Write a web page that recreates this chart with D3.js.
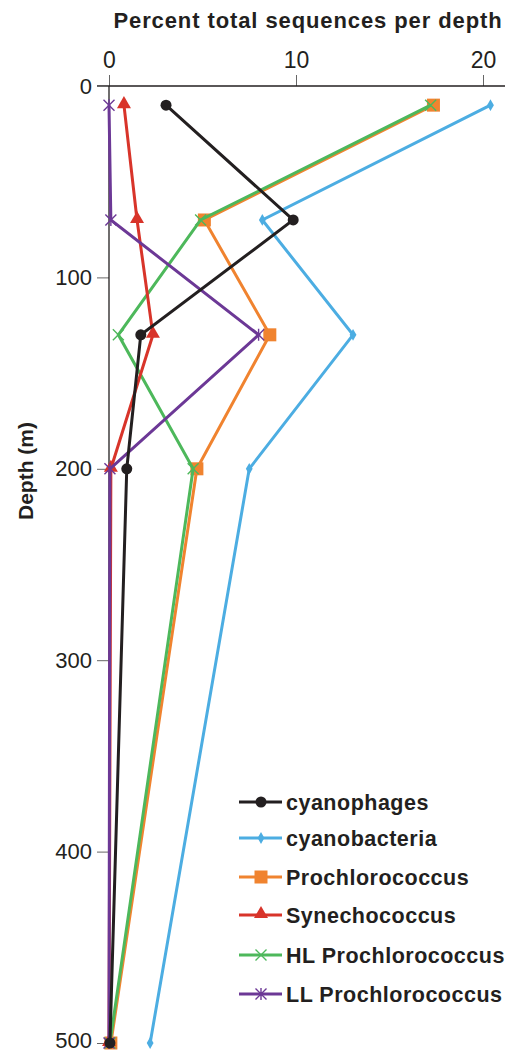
<!DOCTYPE html>
<html>
<head>
<meta charset="utf-8">
<script src="https://cdn.jsdelivr.net/npm/d3@7"></script>
<style>
  body { margin: 0; background: #fff; }
  svg { display: block; font-family: "Liberation Sans", Arial, Helvetica, sans-serif; }
</style>
</head>
<body>
<div id="chart"></div>
<script>
// depths (m) sampled
var depths = [10, 70, 130, 200, 500];

// percent total sequences per depth
var cyanophages = [3.05, 9.85, 1.7, 0.95, 0.05];
var cyanobacteria = [20.4, 8.2, 13.05, 7.5, 2.2];
var prochlorococcus = [17.35, 5.1, 8.6, 4.7, 0.1];
var synechococcus = [0.8, 1.5, 2.35, 0.1, 0.0];
var hlProchlorococcus = [17.2, 4.9, 0.5, 4.5, 0.05];
var llProchlorococcus = [0.0, 0.1, 8.0, 0.05, 0.0];

var xTicks = [0, 10, 20];
var yTicks = [0, 100, 200, 300, 400, 500];

var width = 508;
var height = 1053;
var font = "'Liberation Sans', Arial, Helvetica, sans-serif";
var ink = "#231f20";

var x = d3.scaleLinear().domain([0, 20]).range([109, 483]);
var y = d3.scaleLinear().domain([0, 500]).range([86, 1043]);

var series = [
  {name: "cyanobacteria", values: cyanobacteria, color: "#4cade2", shape: "diamond"},
  {name: "Prochlorococcus", values: prochlorococcus, color: "#f0832f", shape: "square"},
  {name: "HL Prochlorococcus", values: hlProchlorococcus, color: "#4db85b", shape: "x"},
  {name: "Synechococcus", values: synechococcus, color: "#d8342a", shape: "triangle"},
  {name: "LL Prochlorococcus", values: llProchlorococcus, color: "#6c3896", shape: "star"},
  {name: "cyanophages", values: cyanophages, color: "#231f20", shape: "circle"}
];
var legendOrder = ["cyanophages", "cyanobacteria", "Prochlorococcus", "Synechococcus", "HL Prochlorococcus", "LL Prochlorococcus"];

var svg = d3.select("#chart")
  .append("svg")
  .attr("width", width)
  .attr("height", height);

//title
svg.append("text")
  .attr("x", 308)
  .attr("y", 28)
  .attr("text-anchor", "middle")
  .style("font-family", font)
  .style("font-weight", "bold")
  .style("font-size", "22px")
  .style("letter-spacing", "0.9px")
  .style("fill", ink)
  .text("Percent total sequences per depth");

//x axis on top
var xAxis = svg.append("g")
  .attr("transform", "translate(0," + y(0) + ")")
  .call(d3.axisTop(x).tickValues(xTicks).tickSize(11).tickPadding(7).tickFormat(d3.format("d")));
xAxis.select(".domain").remove();
xAxis.append("line")
  .attr("x1", 97).attr("x2", 505)
  .attr("stroke", ink).attr("stroke-width", 1.3);
xAxis.selectAll(".tick line").attr("stroke", "#666").attr("stroke-width", 1);
xAxis.selectAll(".tick text")
  .style("font-family", font).style("font-size", "23px").style("fill", ink);

//y axis
var yAxis = svg.append("g")
  .attr("transform", "translate(" + x(0) + ",0)")
  .call(d3.axisLeft(y).tickValues(yTicks).tickSize(12).tickPadding(5));
yAxis.select(".domain").remove();
yAxis.append("line")
  .attr("y1", y(0)).attr("y2", y(500))
  .attr("stroke", ink).attr("stroke-width", 1.3);
yAxis.selectAll(".tick line").attr("stroke", "#666").attr("stroke-width", 1);
yAxis.selectAll(".tick text")
  .style("font-family", font).style("font-size", "22px").style("fill", ink);
// keep the bottom label inside the frame
yAxis.selectAll(".tick text").filter(function(d) { return d === 500; })
  .attr("dy", "0.22em");

svg.append("text")
  .attr("transform", "translate(33," + 471 + ") rotate(-90)")
  .attr("text-anchor", "middle")
  .style("font-family", font)
  .style("font-weight", "bold")
  .style("font-size", "21px")
  .style("fill", ink)
  .text("Depth (m)");

var line = d3.line()
  .x(function(d) { return x(d[0]); })
  .y(function(d) { return y(d[1]); });

function drawMarker(g, shape, color, cx, cy) {
  if (shape === "circle") {
    g.append("circle").attr("cx", cx).attr("cy", cy).attr("r", 5.5).attr("fill", color);
  } else if (shape === "diamond") {
    g.append("path").attr("d", d3.symbol().type(d3.symbolDiamond).size(40)())
      .attr("transform", "translate(" + cx + "," + cy + ")").attr("fill", color);
  } else if (shape === "square") {
    g.append("rect").attr("x", cx - 6.5).attr("y", cy - 6.5).attr("width", 13).attr("height", 13).attr("fill", color);
  } else if (shape === "triangle") {
    g.append("path").attr("d", d3.symbol().type(d3.symbolTriangle).size(85)())
      .attr("transform", "translate(" + cx + "," + (cy - 1) + ")").attr("fill", color);
  } else if (shape === "x") {
    g.append("path").attr("d", "M-5.5,-5.5L5.5,5.5M-5.5,5.5L5.5,-5.5")
      .attr("transform", "translate(" + cx + "," + cy + ")")
      .attr("stroke", color).attr("stroke-width", 1.4).attr("fill", "none");
  } else if (shape === "star") {
    g.append("path").attr("d", "M-5.5,-5.5L5.5,5.5M-5.5,5.5L5.5,-5.5M0,-6L0,6")
      .attr("transform", "translate(" + cx + "," + cy + ")")
      .attr("stroke", color).attr("stroke-width", 1.4).attr("fill", "none");
  }
}

//lines and markers
series.forEach(function(s) {
  var pts = depths.map(function(d, i) { return [s.values[i], d]; });
  var g = svg.append("g");
  g.append("path")
    .datum(pts)
    .attr("d", line)
    .attr("fill", "none")
    .attr("stroke", s.color)
    .attr("stroke-width", 3);
  pts.forEach(function(p) {
    drawMarker(g, s.shape, s.color, x(p[0]), y(p[1]));
  });
});

//legend
var key = svg.append("g");
legendOrder.forEach(function(name, i) {
  var s = series.filter(function(d) { return d.name === name; })[0];
  var ly = [802, 838, 877, 915, 955, 994][i];
  key.append("line")
    .attr("x1", 239).attr("x2", 282)
    .attr("y1", ly).attr("y2", ly)
    .attr("stroke", s.color).attr("stroke-width", 3);
  drawMarker(key, s.shape, s.color, 261, ly);
  key.append("text")
    .attr("x", 286)
    .attr("y", ly + 7.5)
    .style("font-family", font)
    .style("font-weight", "bold")
    .style("font-size", "21.5px")
    .style("letter-spacing", "0.5px")
    .style("fill", ink)
    .text(name);
});
</script>
</body>
</html>
